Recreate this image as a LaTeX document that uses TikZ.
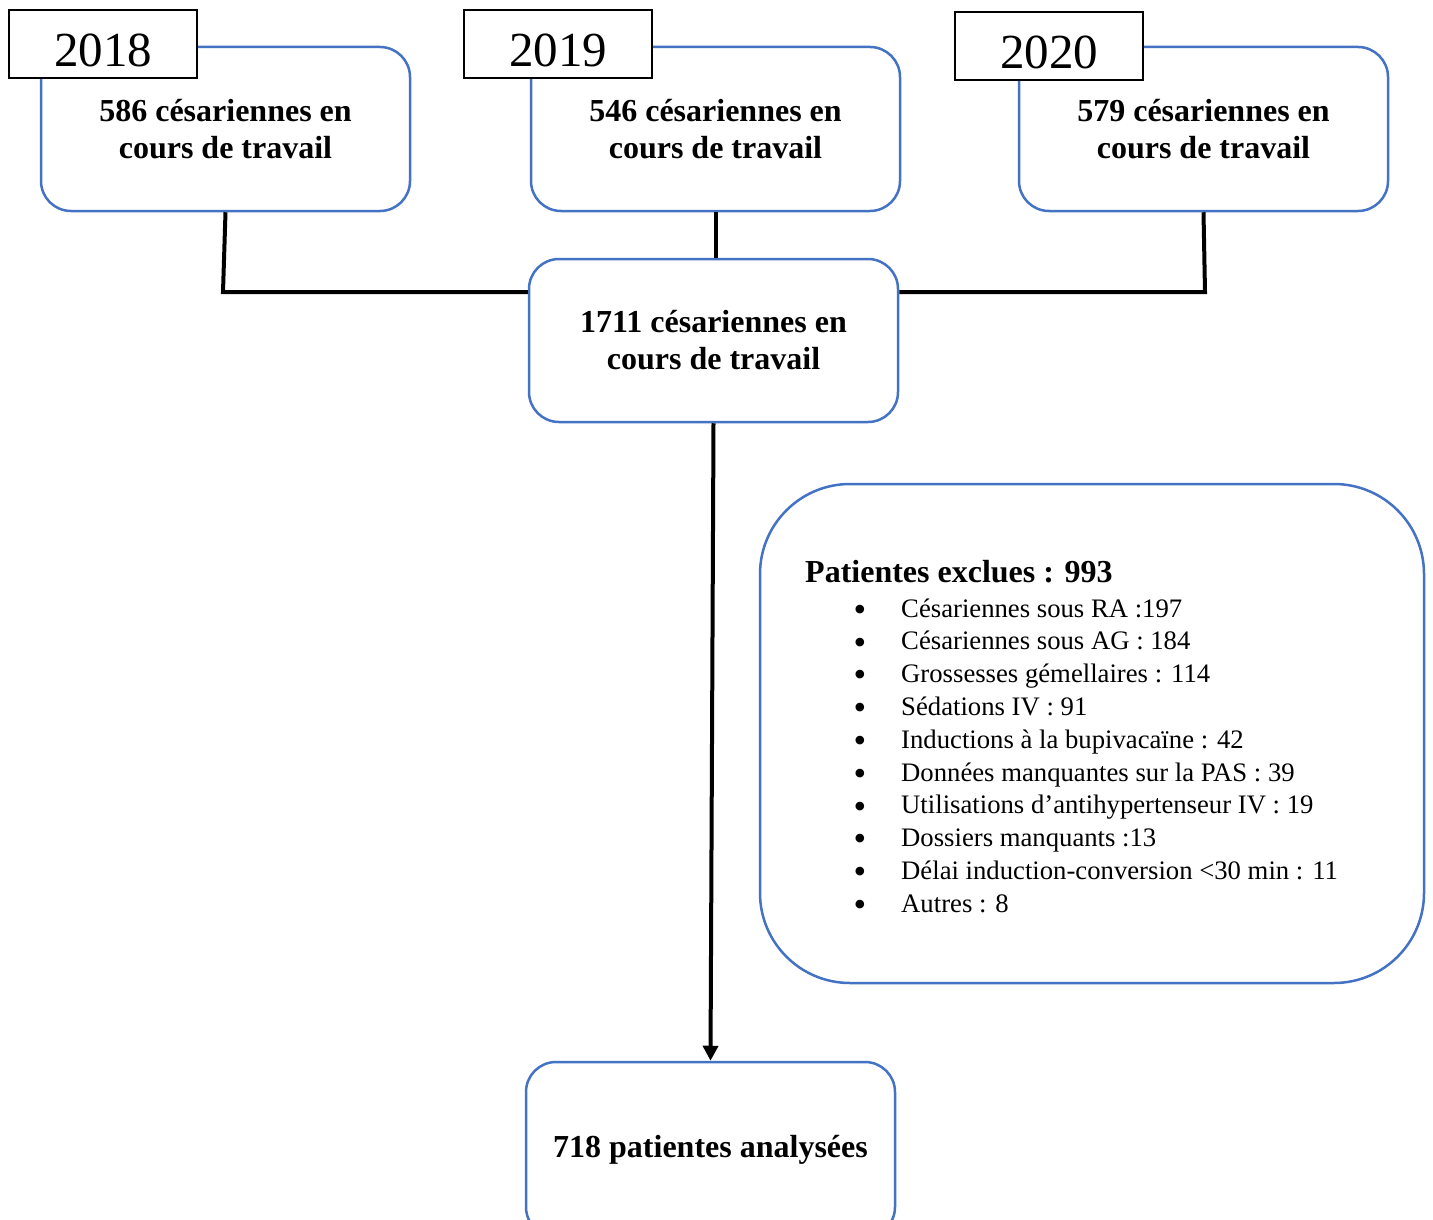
\documentclass[tikz,border=0pt]{standalone}
\usepackage{fontspec}
\setmainfont{Liberation Serif}
\usetikzlibrary{arrows.meta,calc}
\definecolor{boxblue}{RGB}{68,114,196}
\newcommand{\bigbul}{\scalebox{1.35}{•}}
\begin{document}
\begin{tikzpicture}[x=1pt,y=-1pt,
  bluebox/.style={draw=boxblue,line width=2.5pt,rounded corners=30pt,minimum width=369pt,minimum height=164pt,inner sep=0pt,align=center,font=\fontsize{32}{37}\selectfont\bfseries},
  yearbox/.style={draw=black,line width=2.5pt,fill=white,minimum width=188pt,minimum height=68pt,inner sep=0pt,text height=46pt,text depth=0pt,font=\fontsize{49}{55}\selectfont},
  exclbox/.style={draw=boxblue,line width=2.5pt,rounded corners=90pt,minimum width=664pt,minimum height=499pt,inner sep=0pt},
  conn/.style={line width=4pt,black},
  listfont/.style={font=\fontsize{26.7}{32.8}\selectfont,inner sep=0pt}
]
\clip (0,0) rectangle (1433,1220);
\fill[white] (0,0) rectangle (1433,1220);
% year boxes
\node[bluebox] (b18) at (225.5,129) {586 césariennes en\\cours de travail};
\node[bluebox] (b19) at (715.5,129) {546 césariennes en\\cours de travail};
\node[bluebox] (b20) at (1203.5,129) {579 césariennes en\\cours de travail};
\node[yearbox] (y18) at (103,44) {2018};
\node[yearbox] (y19) at (558,44) {2019};
\node[yearbox] (y20) at (1049,46) {2020};
% central box
\node[bluebox,minimum height=163pt] (c) at (713.5,340.5) {1711 césariennes en\\cours de travail};
% final box
\node[bluebox,minimum height=175pt] (fin) at (710.5,1149.5) {718 patientes analysées};
% exclusion box
\node[exclbox] (ex) at (1092,733.5) {};
\node[anchor=base west,inner sep=0pt,font=\fontsize{32}{37}\selectfont\bfseries] (exh) at (805,582) {Patientes exclues : 993};
\node[anchor=base,align=center,listfont] (exb) at (860,916.5) {\bigbul\\\bigbul\\\bigbul\\\bigbul\\\bigbul\\\bigbul\\\bigbul\\\bigbul\\\bigbul\\\bigbul};
\node[anchor=base west,align=left,listfont] (exl) at (901,912.2) {Césariennes sous RA :197\\
Césariennes sous AG : 184\\
Grossesses gémellaires : 114\\
Sédations IV : 91\\
Inductions à la bupivacaïne : 42\\
Données manquantes sur la PAS : 39\\
Utilisations d’antihypertenseur IV : 19\\
Dossiers manquants :13\\
Délai induction-conversion <30 min : 11\\
Autres : 8};
% connectors
\coordinate (j1) at (223,292);
\coordinate (j3) at (1205,292);
\draw[conn] (b18.south) -- (j1) -- (j1 -| c.west);
\draw[conn] (b19.south) -- (b19.south |- c.north);
\draw[conn] (b20.south) -- (j3) -- (j3 -| c.east);
\draw[conn,-{Triangle[length=15pt,width=15pt]}] (c.south) -- (fin.north);
\end{tikzpicture}
\end{document}
